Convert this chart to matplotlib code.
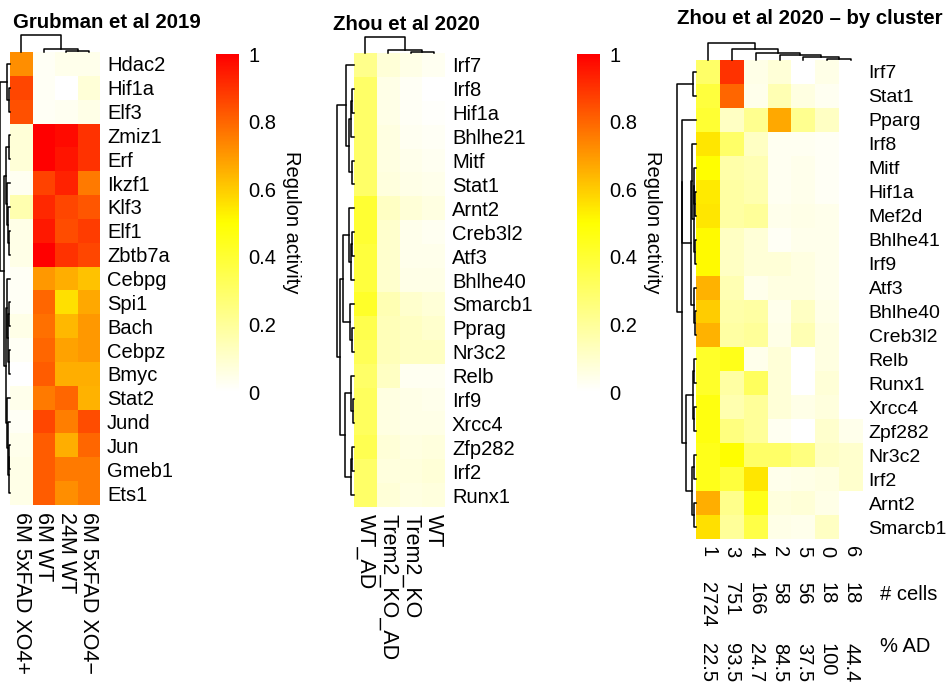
import matplotlib
matplotlib.use("Agg")
import matplotlib.pyplot as plt
import numpy as np
from matplotlib.colors import LinearSegmentedColormap, Normalize
from matplotlib.cm import ScalarMappable

plt.rcParams['font.family'] = ['Liberation Sans', 'DejaVu Sans']

W, H = 947, 682
FS = 14.5
FS_COL = 15.5

# ---- Grubman et al 2019 ----
grub_rows = ["Hdac2", "Hif1a", "Elf3", "Zmiz1", "Erf", "Ikzf1", "Klf3", "Elf1",
             "Zbtb7a", "Cebpg", "Spi1", "Bach", "Cebpz", "Bmyc", "Stat2", "Jund",
             "Jun", "Gmeb1", "Ets1"]
grub_cols = ["6M 5xFAD XO4+", "6M WT", "24M WT", "6M 5xFAD XO4\u2212"]
grub_vals = [
    [0.72, 0.02, 0.04, 0.04],
    [0.86, 0.02, 0.00, 0.08],
    [0.84, 0.02, 0.03, 0.05],
    [0.08, 1.00, 0.98, 0.90],
    [0.08, 1.00, 0.96, 0.90],
    [0.03, 0.87, 0.93, 0.76],
    [0.16, 0.92, 0.86, 0.83],
    [0.05, 0.95, 0.85, 0.88],
    [0.05, 1.00, 0.90, 0.86],
    [0.02, 0.70, 0.66, 0.62],
    [0.02, 0.80, 0.56, 0.67],
    [0.05, 0.78, 0.64, 0.70],
    [0.02, 0.80, 0.68, 0.70],
    [0.00, 0.82, 0.66, 0.66],
    [0.04, 0.76, 0.80, 0.65],
    [0.02, 0.86, 0.75, 0.85],
    [0.04, 0.82, 0.66, 0.80],
    [0.05, 0.82, 0.76, 0.76],
    [0.05, 0.82, 0.72, 0.76],
]
# merges: (left, right, height); new clusters numbered from len(leaves)
grub_row_tree = [(1, 2, 0.15), (0, 19, 0.3), (3, 4, 0.1), (7, 8, 0.1), (6, 22, 0.2),
                 (5, 23, 0.3), (21, 24, 0.45), (10, 11, 0.1), (12, 13, 0.1),
                 (26, 27, 0.2), (9, 28, 0.3), (16, 17, 0.1), (30, 18, 0.15),
                 (15, 31, 0.25), (14, 32, 0.35), (29, 33, 0.45), (25, 34, 0.6),
                 (20, 35, 1.0)]
grub_col_tree = [(2, 3, 0.08), (1, 4, 0.15), (0, 5, 1.0)]

# ---- Zhou et al 2020 ----
zhou_rows = ["Irf7", "Irf8", "Hif1a", "Bhlhe21", "Mitf", "Stat1", "Arnt2", "Creb3l2",
             "Atf3", "Bhlhe40", "Smarcb1", "Pprag", "Nr3c2", "Relb", "Irf9", "Xrcc4",
             "Zfp282", "Irf2", "Runx1"]
zhou_cols = ["WT_AD", "Trem2_KO_AD", "Trem2_KO", "WT"]
zhou_vals = [
    [0.23, 0.08, 0.05, 0.03],
    [0.30, 0.05, 0.02, 0.00],
    [0.30, 0.05, 0.02, 0.01],
    [0.30, 0.06, 0.03, 0.02],
    [0.30, 0.06, 0.04, 0.03],
    [0.30, 0.07, 0.05, 0.04],
    [0.40, 0.12, 0.08, 0.06],
    [0.40, 0.10, 0.04, 0.03],
    [0.38, 0.10, 0.04, 0.04],
    [0.38, 0.10, 0.05, 0.05],
    [0.42, 0.15, 0.10, 0.08],
    [0.35, 0.14, 0.12, 0.10],
    [0.33, 0.14, 0.12, 0.12],
    [0.30, 0.12, 0.03, 0.03],
    [0.32, 0.06, 0.05, 0.04],
    [0.32, 0.06, 0.05, 0.05],
    [0.34, 0.08, 0.06, 0.07],
    [0.30, 0.07, 0.07, 0.08],
    [0.30, 0.08, 0.06, 0.07],
]
zhou_row_tree = [(1, 2, 0.1), (19, 3, 0.2), (4, 5, 0.1), (20, 21, 0.3), (0, 22, 0.47),
                 (7, 8, 0.1), (24, 9, 0.15), (6, 25, 0.3), (11, 12, 0.1), (10, 27, 0.25),
                 (26, 28, 0.65), (14, 15, 0.08), (13, 30, 0.2), (16, 17, 0.1),
                 (32, 18, 0.15), (31, 33, 0.55), (29, 34, 0.85), (23, 35, 1.0)]
zhou_col_tree = [(2, 3, 0.05), (1, 4, 0.18), (0, 5, 1.0)]

# ---- Zhou et al 2020, by cluster ----
clu_rows = ["Irf7", "Stat1", "Pparg", "Irf8", "Mitf", "Hif1a", "Mef2d", "Bhlhe41",
            "Irf9", "Atf3", "Bhlhe40", "Creb3l2", "Relb", "Runx1", "Xrcc4", "Zpf282",
            "Nr3c2", "Irf2", "Arnt2", "Smarcb1"]
clu_cols = ["1", "3", "4", "2", "5", "0", "6"]
clu_cells = ["2724", "751", "166", "58", "56", "18", "18"]
clu_pct_ad = ["22.5", "93.5", "24.7", "84.5", "37.5", "100", "44.4"]
clu_vals = [
    [0.30, 0.90, 0.05, 0.08, 0.00, 0.05, 0.00],
    [0.38, 0.80, 0.04, 0.15, 0.06, 0.03, 0.00],
    [0.40, 0.12, 0.22, 0.67, 0.22, 0.12, 0.00],
    [0.55, 0.30, 0.12, 0.03, 0.03, 0.02, 0.00],
    [0.50, 0.17, 0.15, 0.03, 0.04, 0.02, 0.00],
    [0.54, 0.18, 0.16, 0.03, 0.04, 0.02, 0.00],
    [0.55, 0.18, 0.20, 0.04, 0.05, 0.04, 0.00],
    [0.51, 0.12, 0.08, 0.02, 0.04, 0.04, 0.00],
    [0.51, 0.12, 0.08, 0.08, 0.06, 0.04, 0.00],
    [0.65, 0.15, 0.04, 0.06, 0.06, 0.04, 0.00],
    [0.60, 0.17, 0.18, 0.04, 0.12, 0.05, 0.00],
    [0.65, 0.18, 0.20, 0.05, 0.15, 0.06, 0.00],
    [0.42, 0.45, 0.04, 0.08, 0.00, 0.06, 0.00],
    [0.42, 0.18, 0.32, 0.08, 0.00, 0.08, 0.00],
    [0.47, 0.16, 0.20, 0.08, 0.05, 0.07, 0.00],
    [0.47, 0.25, 0.20, 0.03, 0.00, 0.10, 0.04],
    [0.45, 0.50, 0.30, 0.30, 0.25, 0.12, 0.10],
    [0.45, 0.38, 0.55, 0.04, 0.05, 0.06, 0.10],
    [0.66, 0.23, 0.45, 0.07, 0.08, 0.05, 0.00],
    [0.56, 0.20, 0.36, 0.05, 0.04, 0.12, 0.00],
]
clu_row_tree = [(0, 1, 0.15), (5, 6, 0.05), (4, 21, 0.08), (7, 8, 0.06), (22, 23, 0.12),
                (3, 24, 0.2), (10, 11, 0.06), (9, 26, 0.1), (25, 27, 0.25),
                (2, 28, 0.72), (12, 13, 0.1), (14, 15, 0.08), (30, 31, 0.15),
                (16, 17, 0.12), (18, 19, 0.08), (33, 34, 0.2), (32, 35, 0.55),
                (29, 36, 0.75), (20, 37, 1.0)]
clu_col_tree = [(5, 6, 0.06), (4, 7, 0.18), (3, 8, 0.3), (2, 9, 0.41), (1, 10, 0.65),
                (0, 11, 1.0)]

cmap = LinearSegmentedColormap.from_list("regulon", ["white", "yellow", "red"])

fig = plt.figure(figsize=(W / 100, H / 100), dpi=100)


def px_axes(x0, y0, x1, y1):
    # axes placed by pixel box (top-left origin)
    return fig.add_axes([x0 / W, 1 - y1 / H, (x1 - x0) / W, (y1 - y0) / H])


def dendro(ax, tree, n, side):
    pos = {i: i + 0.5 for i in range(n)}
    hgt = {i: 0.0 for i in range(n)}
    for k, (a, b, h) in enumerate(tree):
        p = [pos[a], pos[a], pos[b], pos[b]]
        q = [hgt[a], h, h, hgt[b]]
        if side == "left":
            ax.plot(q, p, color="black", lw=1.1, clip_on=False)
        else:
            ax.plot(p, q, color="black", lw=1.1, clip_on=False)
        pos[n + k] = (pos[a] + pos[b]) / 2
        hgt[n + k] = h
    if side == "left":
        ax.set_xlim(1.0, 0)
        ax.set_ylim(n, 0)
    else:
        ax.set_xlim(0, n)
        ax.set_ylim(0, 1.0)
    ax.axis("off")


def heatmap(box, vals, rows, cols, col_fs=FS_COL, row_fs=FS, row_pad=5):
    ax = px_axes(*box)
    vals = np.array(vals)
    nr, nc = vals.shape
    ax.pcolormesh(vals, cmap=cmap, vmin=0, vmax=1)
    ax.set_xlim(0, nc)
    ax.set_ylim(nr, 0)
    ax.yaxis.tick_right()
    ax.set_yticks(np.arange(nr) + 0.5, rows)
    ax.set_xticks(np.arange(nc) + 0.5, cols, rotation=270)
    ax.tick_params(axis="y", length=0, labelsize=row_fs, pad=row_pad)
    ax.tick_params(axis="x", length=0, labelsize=col_fs, pad=5)
    for s in ax.spines.values():
        s.set_visible(False)
    return ax


def colorbar(x0, x1, y0, y1, label_x):
    cax = px_axes(x0, y0, x1, y1)
    cb = fig.colorbar(ScalarMappable(norm=Normalize(0, 1), cmap=cmap), cax=cax)
    cb.set_ticks([0, 0.2, 0.4, 0.6, 0.8, 1], labels=["0", "0.2", "0.4", "0.6", "0.8", "1"])
    cb.outline.set_visible(False)
    cax.tick_params(length=0, labelsize=FS, pad=7)
    fig.text(label_x / W, 1 - 222 / H, "Regulon activity", rotation=270,
             ha="center", va="center", fontsize=FS)


# panel 1
heatmap((10, 52, 100, 505), grub_vals, grub_rows, grub_cols)
dendro(px_axes(0, 52, 10, 505), grub_row_tree, len(grub_rows), "left")
dendro(px_axes(10, 35, 100, 52), grub_col_tree, len(grub_cols), "top")
fig.text(13 / W, 1 - 22 / H, "Grubman et al 2019", fontsize=14.7, fontweight="bold",
         va="center")
colorbar(216, 239, 54, 392, 291)

# panel 2
heatmap((354, 53, 445, 507), zhou_vals, zhou_rows, zhou_cols)
dendro(px_axes(337, 53, 354, 507), zhou_row_tree, len(zhou_rows), "left")
dendro(px_axes(354, 37, 445, 53), zhou_col_tree, len(zhou_cols), "top")
fig.text(333 / W, 1 - 24 / H, "Zhou et al 2020", fontsize=14.7, fontweight="bold",
         va="center")
colorbar(577, 600, 54, 392, 652)

# panel 3 (row labels a touch smaller so they fit the right edge)
ax3 = heatmap((696, 60, 863, 539), clu_vals, clu_rows, clu_cols, col_fs=FS,
              row_fs=14.0, row_pad=4)
dendro(px_axes(677, 60, 696, 539), clu_row_tree, len(clu_rows), "left")
dendro(px_axes(696, 43, 863, 60), clu_col_tree, len(clu_cols), "top")
fig.text(677 / W, 1 - 18 / H, "Zhou et al 2020 \u2013 by cluster", fontsize=14.7,
         fontweight="bold", va="center")
nr3 = len(clu_rows)
for j, (nc_, pa) in enumerate(zip(clu_cells, clu_pct_ad)):
    ax3.annotate(nc_, xy=(j + 0.5, nr3), xytext=(0, -43), textcoords="offset pixels",
                 rotation=270, ha="center", va="top", fontsize=FS)
    ax3.annotate(pa, xy=(j + 0.5, nr3), xytext=(0, -104), textcoords="offset pixels",
                 rotation=270, ha="center", va="top", fontsize=FS)
fig.text(880 / W, 1 - 595 / H, "# cells", fontsize=FS, va="center")
fig.text(880 / W, 1 - 647 / H, "% AD", fontsize=FS, va="center")

fig.savefig("out.png", dpi=100)
